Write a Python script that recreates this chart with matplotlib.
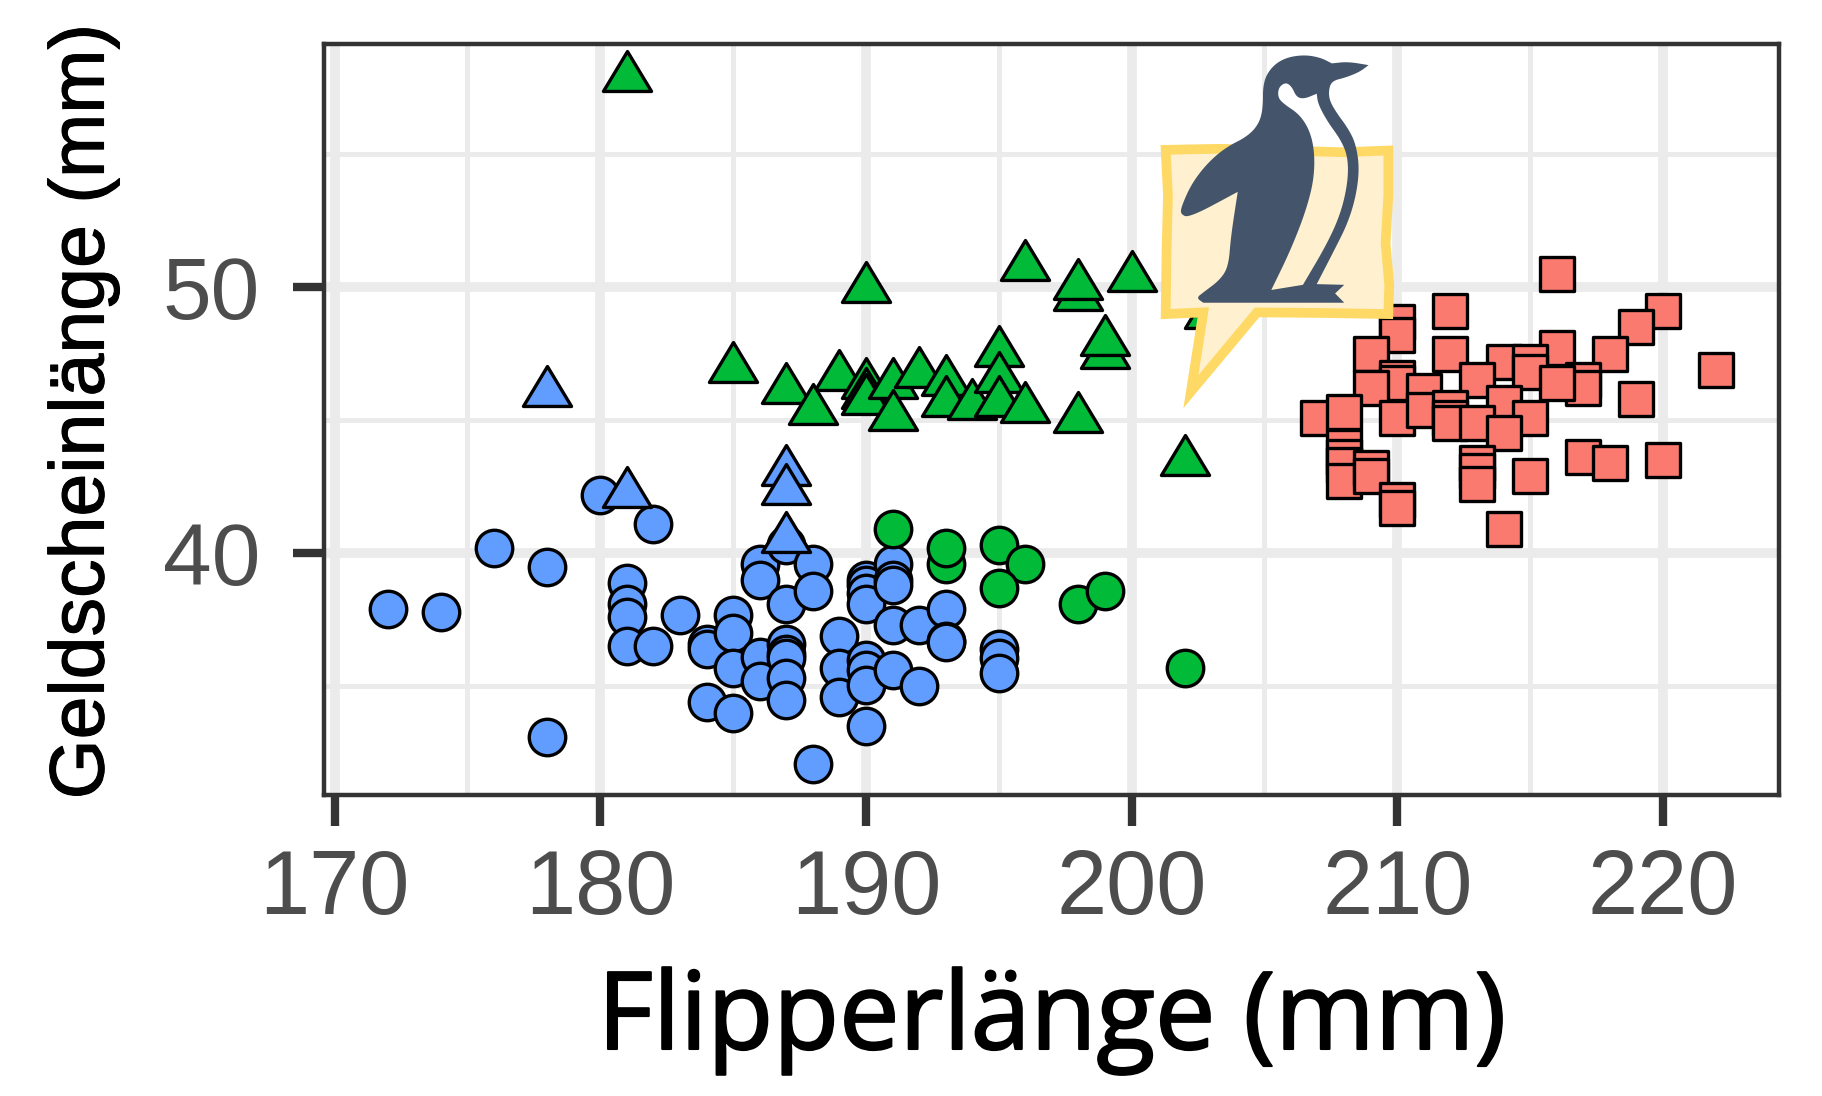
import numpy as np
import matplotlib
matplotlib.use('Agg')
import matplotlib.pyplot as plt
import matplotlib.patheffects as pe
from matplotlib.patches import PathPatch, Polygon
from matplotlib.path import Path

# blue circles
blue_circle_x = [172, 174, 176, 178, 178, 180, 182, 181, 181, 181, 181, 182, 183, 184, 184, 184, 185, 185, 185, 185,
                 186, 186, 186, 186, 187, 187, 187, 187, 187, 187, 187, 188, 188, 188, 189, 189, 189,
                 190, 190, 190, 190, 190, 190, 190, 190, 191, 191, 191, 191, 191, 192, 192, 193, 193, 193, 195, 195, 195]
blue_circle_y = [37.9, 37.8, 40.2, 39.5, 33.1, 42.2, 41.1, 38.9, 38.1, 37.6, 36.5, 36.5, 37.7, 36.6, 36.4, 34.4,
                 37.7, 37.0, 35.7, 34.0, 39.6, 39.0, 36.1, 35.2, 40.3, 38.1, 36.6, 36.2, 36.05, 35.3, 34.5,
                 39.6, 38.6, 32.1, 36.9, 35.7, 34.6, 39.0, 38.8, 38.5, 38.1, 36.0, 35.6, 35.05, 33.5,
                 39.6, 39.0, 38.8, 37.3, 35.6, 37.3, 35.0, 37.9, 36.7, 36.65, 36.4, 36.05, 35.5]

# blue triangles
blue_tri_x = [178, 181, 187, 187, 187]
blue_tri_y = [46.3, 42.5, 43.3, 42.6, 40.8]

# green circles
green_circle_x = [191, 193, 193, 195, 196, 195, 198, 199, 202]
green_circle_y = [40.9, 39.6, 40.2, 40.3, 39.6, 38.7, 38.1, 38.6, 35.7]

# green triangles
green_tri_x = [181, 190, 196, 200, 198, 198, 199, 199, 195, 185, 189, 187, 188, 190, 190, 190, 191, 191, 192,
               193, 193, 194, 195, 195, 196, 198, 202, 202.9]
green_tri_y = [58.1, 50.2, 51.0, 50.6, 49.9, 50.3, 47.7, 48.2, 47.8, 47.2, 46.9, 46.4, 45.6, 46.6, 46.2, 46.0, 46.6,
               45.4, 47.0, 46.7, 45.9, 45.8, 46.8, 45.9, 45.7, 45.3, 43.7, 49.2]

# red squares
red_x = [216, 212, 220, 219, 210, 210, 209, 212, 218, 216, 222, 214, 215, 215, 217, 217, 216, 210, 210, 209, 211,
         213, 219, 214, 215, 210, 211, 212, 212, 212, 213, 214, 207, 208, 208, 208, 208, 208, 209, 209, 210, 210,
         213, 213, 213, 215, 217, 218, 220, 214]
red_y = [50.5, 49.1, 49.1, 48.5, 48.7, 48.2, 47.5, 47.5, 47.5, 47.7, 46.9, 47.2, 47.2, 46.8, 46.5, 46.2, 46.4, 46.6,
         46.4, 46.2, 46.1, 46.5, 45.8, 45.65, 45.1, 45.1, 45.4, 45.45, 45.1, 44.9, 44.9, 44.5, 45.1, 45.3, 44.0,
         43.6, 43.3, 42.7, 43.2, 42.9, 42.0, 41.7, 43.4, 43.1, 42.6, 42.9, 43.6, 43.4, 43.5, 40.9]

x_ticks = [170, 180, 190, 200, 210, 220]
y_ticks = [40, 50]
x_minor = [175, 185, 195, 205, 215]
y_minor = [35, 45, 55]
x_title = 'Flipperlänge (mm)'
y_title = 'Geldscheinlänge (mm)'

W, H = 1822, 1096
fig = plt.figure(figsize=(W / 100, H / 100), dpi=100)
ax = fig.add_axes([324 / W, 1 - 795 / H, (1779 - 324) / W, (795 - 44) / H])
ax.set_xlim(169.6, 224.37)
ax.set_ylim(30.92, 59.13)

ax.set_xticks(x_ticks)
ax.set_yticks(y_ticks)
ax.set_xticks(x_minor, minor=True)
ax.set_yticks(y_minor, minor=True)
ax.set_axisbelow(True)
ax.grid(which='major', color='#EBEBEB', lw=7)
ax.grid(which='minor', color='#EBEBEB', lw=3.6)
ax.tick_params(which='minor', length=0)
ax.tick_params(which='major', length=22, width=6, color='#333333', labelcolor='#4D4D4D')
ax.tick_params(axis='x', which='major', labelsize=65, pad=16)
ax.tick_params(axis='y', which='major', labelsize=63, pad=24)
for label in ax.get_xticklabels() + ax.get_yticklabels():
    label.set_family('Liberation Sans')
for s in ax.spines.values():
    s.set_color('#333333')
    s.set_linewidth(3.2)

# flat triangle, wider than tall
tri = Path([(0, 0.83), (-1, -0.83), (1, -0.83), (0, 0.83)], closed=True)

ax.scatter(blue_circle_x, blue_circle_y, s=690, c='#619CFF', edgecolors='black', linewidths=2.4, zorder=3)
ax.scatter(green_circle_x, green_circle_y, s=690, c='#00BA38', edgecolors='black', linewidths=2.4, zorder=3)
ax.scatter(red_x, red_y, s=570, marker='s', c='#FB7A70', edgecolors='black', linewidths=2.4, zorder=3)
ax.scatter(blue_tri_x, blue_tri_y, s=1200, marker=tri, c='#619CFF', edgecolors='black', linewidths=2.4, zorder=3)
ax.scatter(green_tri_x, green_tri_y, s=1200, marker=tri, c='#00BA38', edgecolors='black', linewidths=2.4, zorder=3)

fig.text(1052 / W, 1 - 1049 / H, x_title, ha='center', va='baseline', fontsize=77.5, family='Open Sans', color='black',
         path_effects=[pe.withStroke(linewidth=1.5, foreground='black')])
fig.text(83 / W, 1 - 411 / H, y_title, ha='center', va='center', rotation=90, fontsize=55.5, family='Liberation Sans',
         color='black', path_effects=[pe.withStroke(linewidth=0.8, foreground='black')])


# logo: outlines measured in a crop, converted to figure pixels
def to_px(pts):
    pts = np.array(pts, dtype=float)
    return np.column_stack([1100 + pts[:, 0] / 2.178, 30 + pts[:, 1] / 2.904])


def smooth(pts, sharp, rounds=3):
    # corner cutting, sharp points are doubled so they stay tight
    out = []
    for p in pts:
        out.append(p)
        if p in sharp:
            out.append(p)
            out.append(p)
    out = np.array(out, dtype=float)
    for _ in range(rounds):
        nxt = np.roll(out, -1, axis=0)
        out = np.column_stack([0.75 * out + 0.25 * nxt, 0.25 * out + 0.75 * nxt]).reshape(-1, 2)
    return out


logo = fig.add_axes([0, 0, 1, 1], zorder=5)
logo.set_xlim(0, W)
logo.set_ylim(H, 0)
logo.axis('off')
logo.patch.set_alpha(0)

bubble = [(143, 348), (260, 345), (400, 350), (530, 355), (628, 350), (628, 480), (622, 620), (630, 740), (628, 825),
          (500, 822), (342, 820), (198, 1050), (225, 820), (143, 825), (145, 640), (148, 480)]
logo.add_patch(Polygon(to_px(bubble), closed=True, fc='#FFF1CF', ec='#FFD966', lw=7, joinstyle='miter'))

body = [(445, 72), (480, 80), (505, 97), (540, 92), (585, 102), (565, 122), (535, 138), (505, 148), (498, 175),
        (500, 205), (515, 240), (540, 285), (557, 330), (565, 400), (558, 480), (540, 560), (510, 640), (472, 738),
        (532, 740), (512, 765), (532, 792), (225, 792), (210, 778), (225, 762), (262, 725), (280, 685), (285, 600),
        (300, 470), (195, 545), (175, 535), (178, 510), (200, 445), (235, 385), (275, 340), (320, 310), (345, 275),
        (355, 230), (355, 150), (375, 105), (405, 80)]
belly = [(405, 152), (418, 165), (428, 195), (445, 200), (472, 185), (475, 215), (495, 265), (525, 320), (540, 370),
         (540, 440), (525, 530), (495, 620), (442, 740), (373, 755), (415, 640), (450, 520), (468, 420), (465, 320),
         (440, 250), (395, 210), (387, 190), (390, 165)]
sharp_pts = {(585, 102), (472, 738), (532, 740), (512, 765), (532, 792), (225, 792), (300, 470), (505, 97), (442, 740),
             (373, 755), (472, 185)}
verts = []
codes = []
for outline in [body, belly[::-1]]:
    p = to_px(smooth(outline, sharp_pts))
    verts += list(p) + [p[0]]
    codes += [Path.MOVETO] + [Path.LINETO] * (len(p) - 1) + [Path.CLOSEPOLY]
logo.add_patch(PathPatch(Path(verts, codes), fc='#44546A', ec='none'))

fig.savefig('out.png', dpi=100)
